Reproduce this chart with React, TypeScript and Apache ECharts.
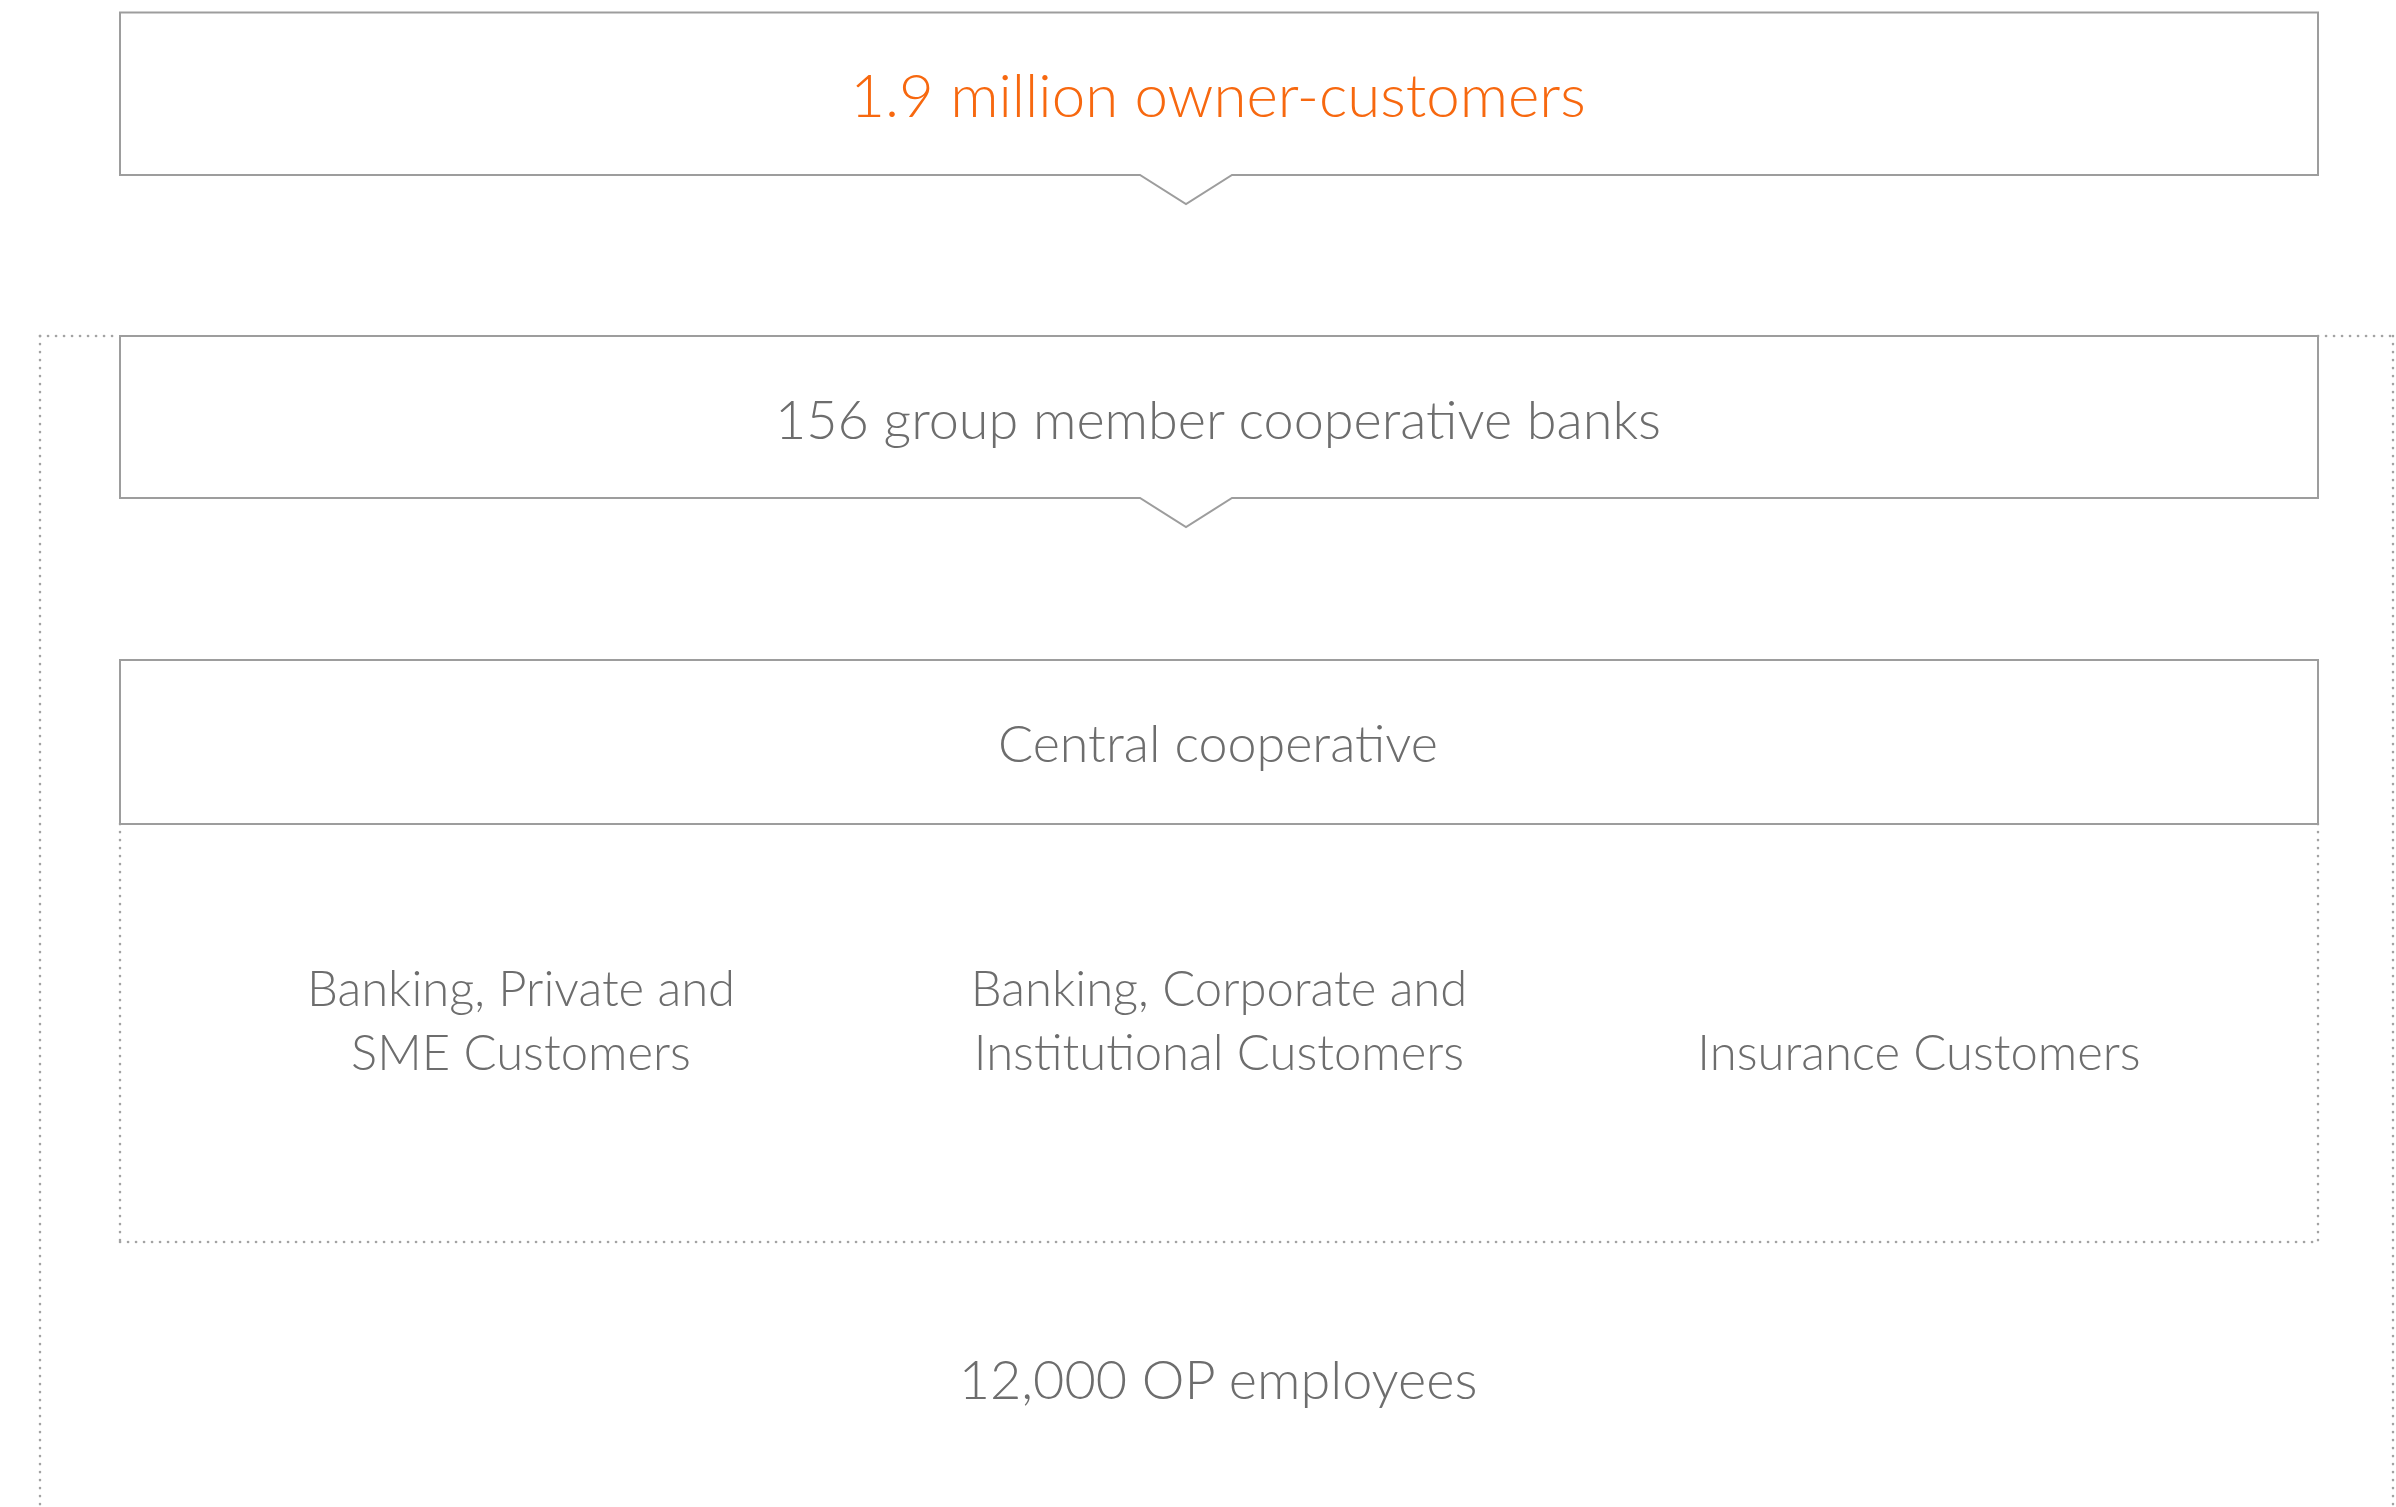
import React, { useEffect, useRef } from "react";
import * as echarts from "echarts";

// ---- content ----
const topLabel = ["1.9 million owner-customers"];
const memberLabel = ["156 group member cooperative banks"];
const centralLabel = ["Central cooperative"];
const segmentLabels = [
  "Banking, Private and\nSME Customers",
  "Banking, Corporate and\nInstitutional Customers",
  "\nInsurance Customers",
];
const employeeLabel = ["12,000 OP employees"];

// ---- layout ----
const W = 2396;
const H = 1507;
const BOX_L = 120;
const BOX_R = 2318;
const OUT_L = 40;
const OUT_R = 2393;
const NOTCH_X = 1186;
const NOTCH_HW = 46;
const NOTCH_D = 29;
const CENTER_X = 1218;

const GRAY_LINE = "#9d9d9d";
const GRAY_TEXT = "#6d6d6d";
const ORANGE = "#f7680f";
const FAMILY = 'Lato, "Noto Sans", sans-serif';

function notchBox(top: number, bottom: number) {
  return {
    type: "polygon",
    shape: {
      points: [
        [BOX_L, top],
        [BOX_R, top],
        [BOX_R, bottom],
        [NOTCH_X + NOTCH_HW, bottom],
        [NOTCH_X, bottom + NOTCH_D],
        [NOTCH_X - NOTCH_HW, bottom],
        [BOX_L, bottom],
      ],
    },
    style: { fill: "none", stroke: GRAY_LINE, lineWidth: 2 },
  };
}

function dotted(x1: number, y1: number, x2: number, y2: number) {
  return {
    type: "line",
    shape: { x1, y1, x2, y2 },
    style: {
      stroke: "#a3a3a3",
      lineWidth: 2.6,
      lineDash: [0.1, 7.9],
      lineCap: "round",
    },
  };
}

function label(text: string, x: number, y: number, color: string, size: number) {
  return {
    type: "text",
    style: {
      text,
      x,
      y,
      fill: color,
      font: `300 ${size}px ${FAMILY}`,
      textAlign: "center",
      textVerticalAlign: "middle",
      align: "center",
      verticalAlign: "middle",
      lineHeight: 64,
    },
  };
}

export default function App() {
  const ref = useRef<HTMLDivElement>(null);
  useEffect(() => {
    if (!ref.current) return;
    const chart = echarts.init(ref.current, undefined, { renderer: "svg" });
    const segX = [521, 1219, 1919];
    const elements: any[] = [
      // outer dotted frame
      dotted(OUT_L, 336, BOX_L, 336),
      dotted(OUT_L, 336, OUT_L, H),
      dotted(BOX_R, 336, OUT_R, 336),
      dotted(OUT_R, 336, OUT_R, H),
      // inner dotted frame
      dotted(BOX_L, 824, BOX_L, 1242),
      dotted(BOX_R, 824, BOX_R, 1242),
      dotted(BOX_L, 1242, BOX_R, 1242),
      // boxes
      notchBox(12.5, 175),
      notchBox(336, 498),
      {
        type: "rect",
        shape: { x: BOX_L, y: 660, width: BOX_R - BOX_L, height: 164 },
        style: { fill: "none", stroke: GRAY_LINE, lineWidth: 2 },
      },
      // texts
      label(topLabel[0], CENTER_X, 94, ORANGE, 60),
      label(memberLabel[0], CENTER_X, 418, GRAY_TEXT, 54),
      label(centralLabel[0], CENTER_X, 742, GRAY_TEXT, 52),
      ...segmentLabels.map((t, i) => label(t, segX[i], 1019, GRAY_TEXT, 49)),
      label(employeeLabel[0], CENTER_X, 1378, GRAY_TEXT, 54),
    ];
    chart.setOption({
      animation: false,
      backgroundColor: "#ffffff",
      graphic: { elements },
    });
    return () => chart.dispose();
  }, []);
  return (
    <div
      ref={ref}
      style={{ position: "fixed", left: 0, top: 0, width: W, height: H }}
    />
  );
}
